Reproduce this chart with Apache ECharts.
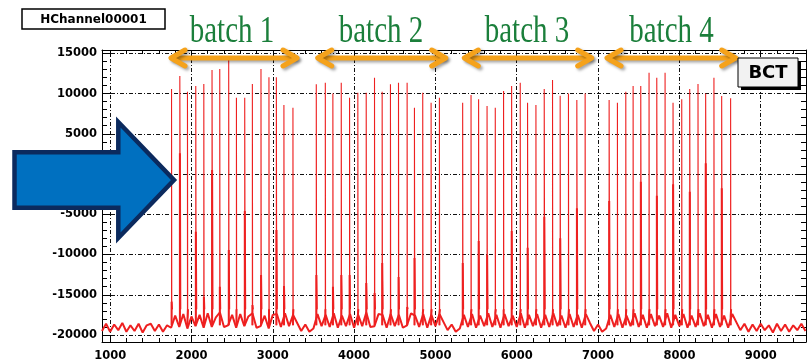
<!DOCTYPE html>
<html><head><meta charset="utf-8">
<script src="https://cdn.jsdelivr.net/npm/echarts@6/dist/echarts.min.js"></script>
<style>html,body{margin:0;padding:0;background:#fff}#c{width:807px;height:363px}</style>
</head><body><div id="c"></div>
<script>
// ---- axis ticks ----
const xTicks = [1000, 2000, 3000, 4000, 5000, 6000, 7000, 8000, 9000];
const yTicks = [-20000, -15000, -10000, -5000, 0, 5000, 10000, 15000];
const xMin = 900, xMax = 9557, yMin = -20870, yMax = 15410;

// ---- baseline (noise) samples, every 50 units starting at 900 ----
const baseStart = 900, baseStep = 50;
const baseline = [
  // 900-1700
  -19500, -18600, -19600, -18700, -19400, -18500, -19600, -18800, -19500, -18600, -19700, -18800, -18600, -19500, -18700, -19600, -18800,
  // 1750-3250 (batch 1)
  -19100, -17600, -19000, -17400, -19200, -17700, -18900, -17500, -19100, -17300, -19000, -17800, -17200, -19000, -18800, -17500,
  -19100, -17400, -18900, -17700, -17300, -19100, -18900, -17600, -19200, -17500, -17400, -19000, -17300, -18900, -17500,
  // 3300-3450
  -18500, -19500, -18700, -19600,
  // 3500-5050 (batch 2)
  -19200, -17400, -18900, -17500, -19000, -17300, -19100, -17600, -18900, -17400, -19100, -17500, -18900, -17200, -19000, -18900,
  -17400, -17500, -19100, -17400, -18900, -17500, -19100, -18800, -17300, -17600, -19000, -17400, -19100, -17500, -18900, -17400,
  // 5100-5250
  -18400, -19400, -18700, -19600,
  // 5300-6850 (batch 3)
  -19200, -17500, -19000, -17400, -19100, -17600, -18900, -17300, -19000, -17500, -19100, -17400, -18900, -17600, -19000, -17300,
  -19100, -17500, -18900, -17400, -19100, -17500, -19000, -17300, -18900, -17600, -19100, -17400, -19000, -17500, -19100, -17400,
  // 6900-7050
  -18500, -19500, -18700, -19600,
  // 7100-8650 (batch 4)
  -19200, -17500, -19000, -17400, -19100, -17600, -18900, -17300, -19000, -17500, -19100, -17400, -18900, -17600, -19000, -17300,
  -19100, -17500, -18900, -17400, -19100, -17600, -19000, -17300, -18900, -17500, -19100, -17400, -19000, -17600, -19100, -17400,
  // 8700-9550
  -18400, -19400, -18600, -19600, -18700, -19500, -18600, -19400, -18800, -19700, -18600, -19500, -18700, -19600, -18800, -19400, -18600, -19500
];

// ---- bunch spikes: position, peak value, value of the neighbouring bin ----
const batch1X   = [1755, 1857, 1951, 2053, 2152, 2253, 2348, 2458, 2553, 2655, 2749, 2855, 2953, 3044, 3137, 3248];
const batch1Top = [10560, 12170, 10220, 10930, 11180, 12920, 13040, 14160, 9480, 9480, 11180, 13040, 12010, 12010, 8570, 8230];
const batch1Low = [-15860, 2570, -17900, -7170, -15240, 500, -14000, -9440, -16890, -4600, -16270, -12540, -16890, -6960, -13910, -17640];

const batch2X   = [3535, 3646, 3739, 3842, 3944, 4046, 4149, 4251, 4345, 4447, 4546, 4652, 4742, 4844, 4947, 5049];
const batch2Top = [11140, 11340, 10020, 11340, 9480, 10100, 10100, 11960, 10220, 11140, 11340, 11340, 8230, 10100, 8860, 9480];
const batch2Low = [-12540, -16890, -14000, -12540, -12540, -17510, -13540, -14780, -11050, -17640, -12790, -16520, -10430, -17260, -17640, -17260];

const batch3X   = [5335, 5438, 5531, 5635, 5736, 5838, 5937, 6043, 6133, 6236, 6338, 6440, 6534, 6636, 6739, 6841];
const batch3Top = [8860, 9810, 9280, 8450, 8230, 10310, 10930, 11340, 8860, 8570, 10560, 11670, 9720, 10020, 9190, 10020];
const batch3Low = [-11050, -17260, -8320, -10060, -17260, -16890, -7080, -17260, -9150, -17260, -5300, -17640, -7990, -17640, -4260, -17640];

const batch4X   = [7136, 7238, 7341, 7431, 7525, 7627, 7722, 7824, 7922, 8029, 8127, 8229, 8323, 8425, 8520, 8630];
const batch4Top = [9190, 8860, 10220, 10930, 10930, 12580, 11960, 12580, 8860, 9280, 10560, 11180, 10020, 11960, 9690, 9400];
const batch4Low = [-3350, -17640, -17640, -17640, -960, -17640, -2700, -17640, -1280, -17640, -2200, -17640, 1330, -17640, -1780, -17640];

const spikeBase = -18800;   // level each spike rises from
const spikeFoot = -16800;   // level where each spike's tail starts

const batchLabels = ['batch 1', 'batch 2', 'batch 3', 'batch 4'];
const histTitle = 'HChannel00001';
const legendText = 'BCT';

// ---- build the line data ----
const noisePts = baseline.map((v, i) => [baseStart + i * baseStep, v]);
const peakPts = [], lowPts = [];
[[batch1X, batch1Top, batch1Low], [batch2X, batch2Top, batch2Low],
 [batch3X, batch3Top, batch3Low], [batch4X, batch4Top, batch4Low]].forEach(([xs, tops, lows]) => {
  xs.forEach((x, i) => {
    peakPts.push([x, spikeBase], [x, tops[i]], [x + 3, lows[i]], [x + 6, spikeFoot], [x + 6, null]);
    lowPts.push([x + 1, spikeBase], [x + 1, lows[i]], [x + 6, spikeFoot], [x + 6, null]);
  });
});

const xMinor = [], yMinor = [];
for (let v = 1000; v < xMax; v += 200) if (v % 1000 !== 0) xMinor.push(v);
for (let v = -20000; v < yMax; v += 1000) if (v % 5000 !== 0) yMinor.push(v);

const chart = echarts.init(document.getElementById('c'), null, {renderer: 'canvas'});
const black = '#000';
const red = '#ee2020';
const lbl = {color: '#000', fontFamily: 'DejaVu Sans', fontWeight: 'bold', fontSize: 11.5, formatter: v => String(v)};
function xa(pos, ticks, len, withLine, withLabel, withSplit) {
  return {
    type: 'value', position: pos, min: xMin, max: xMax,
    axisLine: {show: withLine, onZero: false, lineStyle: {color: black, width: 1}},
    axisTick: {show: true, inside: true, length: len, customValues: ticks, lineStyle: {color: black, width: 1}},
    axisLabel: withLabel ? Object.assign({show: true, margin: 8, customValues: ticks}, lbl) : {show: false},
    splitLine: {show: withSplit, lineStyle: {color: '#111', width: 1, type: [4, 2, 1, 2]}},
    minorTick: {show: false}
  };
}
function ya(pos, ticks, len, withLine, withLabel, withSplit) {
  return {
    type: 'value', position: pos, min: yMin, max: yMax,
    axisLine: {show: withLine, onZero: false, lineStyle: {color: black, width: 1}},
    axisTick: {show: true, inside: true, length: len, customValues: ticks, lineStyle: {color: black, width: 1}},
    axisLabel: withLabel ? Object.assign({show: true, margin: 5, customValues: ticks}, lbl) : {show: false},
    splitLine: {show: withSplit, lineStyle: {color: '#111', width: 1, type: [4, 2, 1, 2]}},
    minorTick: {show: false}
  };
}

const orange = '#f5a21b';
const arrowSpans = [[170, 298], [316.7, 446.7], [463.3, 592.7], [606, 736.7]];
const labelCenters = [232, 381, 527, 671.5];
const arrowY = 58;
const graphics = [];
arrowSpans.forEach(([a, b]) => {
  const st = {stroke: orange, lineWidth: 5, lineCap: 'round', lineJoin: 'round', fill: null,
              shadowBlur: 3, shadowColor: 'rgba(0,0,0,0.35)', shadowOffsetX: 2, shadowOffsetY: 2};
  graphics.push({type: 'polyline', z: 100, shape: {points: [[a + 3, arrowY], [b - 3, arrowY]]}, style: st});
  graphics.push({type: 'polyline', z: 100, shape: {points: [[a + 15, arrowY - 8], [a + 1, arrowY], [a + 15, arrowY + 8]]}, style: st});
  graphics.push({type: 'polyline', z: 100, shape: {points: [[b - 15, arrowY - 8], [b - 1, arrowY], [b - 15, arrowY + 8]]}, style: st});
});
batchLabels.forEach((t, i) => {
  graphics.push({type: 'text', z: 100, x: labelCenters[i], y: 32, scaleY: 1.3,
    style: {text: t, font: '29px "Liberation Serif"', fill: '#1b7f3b', textAlign: 'center', textVerticalAlign: 'middle'}});
});
graphics.push({type: 'rect', z: 100, shape: {x: 22, y: 9, width: 143, height: 20}, style: {fill: '#fff', stroke: '#000', lineWidth: 1.5}});
graphics.push({type: 'text', z: 101, x: 93.5, y: 19.5, style: {text: histTitle, font: 'bold 12px "DejaVu Sans"', fill: '#000', textAlign: 'center', textVerticalAlign: 'middle'}});
graphics.push({type: 'rect', z: 100, shape: {x: 741, y: 61, width: 60, height: 29}, style: {fill: '#000'}});
graphics.push({type: 'rect', z: 101, shape: {x: 738, y: 58, width: 60, height: 29}, style: {fill: '#f2f2f2', stroke: '#000', lineWidth: 1}});
graphics.push({type: 'text', z: 102, x: 768, y: 73, style: {text: legendText, font: 'bold 18px "DejaVu Sans"', fill: '#000', textAlign: 'center', textVerticalAlign: 'middle'}});
graphics.push({type: 'polygon', z: 110,
  shape: {points: [[14.5, 152.3], [118.3, 152.3], [118.3, 122], [174, 180], [118.3, 238], [118.3, 207.7], [14.5, 207.7]]},
  style: {fill: '#0070c0', stroke: '#0b2a5e', lineWidth: 4.5, lineJoin: 'miter'}});

const lineSeries = (data, w) => ({
  type: 'line', xAxisIndex: 0, yAxisIndex: 0, data: data, showSymbol: false, symbol: 'none',
  connectNulls: false, sampling: null, lineStyle: {color: red, width: w}, z: 5
});

chart.setOption({
  animation: false,
  backgroundColor: '#fff',
  grid: {left: 102, right: 1, top: 50, bottom: 21, containLabel: false, outerBoundsMode: 'none'},
  xAxis: [
    xa('bottom', xTicks, 7, true, true, true),
    xa('bottom', xMinor, 4, false, false, false),
    xa('top', xTicks, 7, true, false, false),
    xa('top', xMinor, 4, false, false, false)
  ],
  yAxis: [
    ya('left', yTicks, 9, true, true, true),
    ya('left', yMinor, 5, false, false, false),
    ya('right', yTicks, 9, true, false, false),
    ya('right', yMinor, 5, false, false, false)
  ],
  series: [lineSeries(noisePts, 2), lineSeries(peakPts, 1.1), lineSeries(lowPts, 2)],
  graphic: graphics
});
</script>
</body></html>
